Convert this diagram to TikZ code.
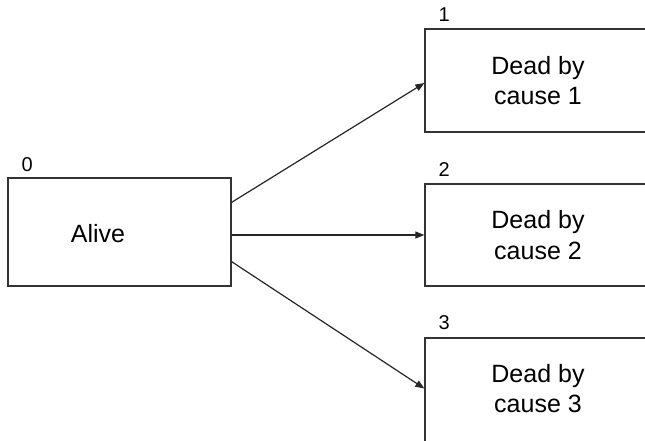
\documentclass[tikz,border=0pt]{standalone}
\usepackage{fontspec}
\setmainfont{Liberation Sans}
\usetikzlibrary{arrows.meta}
\begin{document}
\begin{tikzpicture}[x=1pt,y=-1pt,
  box/.style={draw=black!80, line width=1.3pt, inner sep=0pt, align=center,
    font=\fontsize{25}{30.7}\selectfont},
  deadbox/.style={box, minimum width=226pt, minimum height=103pt},
  txt/.style={inner sep=0pt, font=\fontsize{25}{30.7}\selectfont},
  lbl/.style={inner sep=0pt, anchor=base west, font=\fontsize{20}{22}\selectfont},
  arr/.style={draw=black!85, line width=1.2pt, -{Triangle[length=9pt,width=7pt]}}]
\useasboundingbox (0,0) rectangle (645,440);
\clip (0,0) rectangle (645,440);
\node[box, minimum width=223pt, minimum height=108pt] (alive) at (119.5,232) {};
\node[txt] (alivetxt) at (98,234) {Alive};
\node[deadbox] (d1) at (538,80.5) {Dead by\\cause 1};
\node[deadbox, minimum height=102pt] (d2) at (538,235) {Dead by\\cause 2};
\node[deadbox, minimum height=108pt] (d3) at (538,392) {};
\node[txt, align=center] (d3txt) at (538,388.5) {Dead by\\cause 3};
\node[lbl] (l0) at ([xshift=14pt,yshift=6pt]alive.north west) {0};
\node[lbl] (l1) at ([xshift=14pt,yshift=6.5pt]d1.north west) {1};
\node[lbl] (l2) at ([xshift=14pt,yshift=7pt]d2.north west) {2};
\node[lbl] (l3) at ([xshift=14pt,yshift=8pt]d3.north west) {3};
\draw[arr] ([yshift=-25pt]alive.north east) -- ([yshift=-2.5pt]d1.west);
\draw[arr] (alive.east |- d2.west) -- (d2.west);
\draw[arr] ([yshift=25pt]alive.south east) -- (d3.west |- d3txt);
\end{tikzpicture}
\end{document}
